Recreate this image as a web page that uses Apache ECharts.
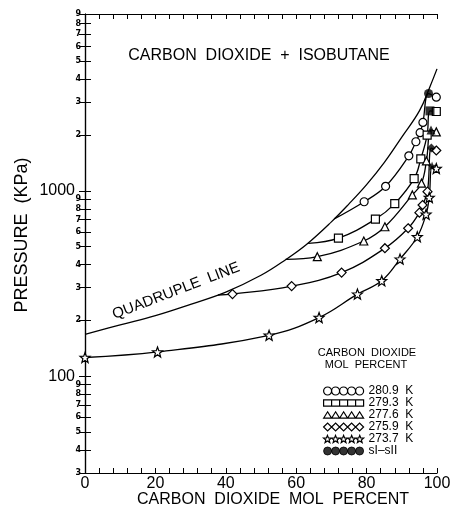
<!DOCTYPE html>
<html>
<head>
<meta charset="utf-8">
<script src="https://cdn.jsdelivr.net/npm/echarts@6/dist/echarts.min.js"></script>
<style>
html, body { margin: 0; padding: 0; background: #fff; }
#main { width: 455px; height: 511px; }
</style>
</head>
<body>
<div id="main"></div>
<script>
// quadruple line
const quadX = [0, 10, 20, 30, 40, 50, 57, 63, 70, 75, 80, 85, 90, 95, 98, 100];
const quadP = [168, 189, 212, 244, 284, 350, 425, 515, 680, 850, 1080, 1420, 1950, 2700, 3650, 4550];

// isotherms (CO2 mol %, kPa)
const t2809X = [70.8, 79.3, 85.4, 92, 94, 95.2, 96, 97.6, 99.8];
const t2809P = [705, 873, 1058, 1545, 1840, 2060, 2340, 3350, 3200];
const t2793X = [63.4, 72, 82.5, 88, 93.5, 95.4, 97.2, 98, 99.8];
const t2793P = [520, 555, 703, 853, 1163, 1487, 2000, 2700, 2680];
const t2776X = [57, 66, 79.2, 85.2, 93, 95.6, 97, 98.3, 99.8];
const t2776P = [427, 441, 536, 640, 950, 1100, 1450, 2130, 2080];
const t2759X = [37.8, 41.9, 58.7, 72.9, 85.2, 91.8, 95, 95.9, 97.3, 98.4, 99.8];
const t2759P = [274, 277, 306, 362, 490, 628, 762, 838, 990, 1700, 1650];
const t2737X = [0, 20.6, 52.3, 66.5, 77.4, 84.3, 89.5, 94.4, 96.9, 97.8, 98.6, 99.8];
const t2737P = [126, 135, 166, 207, 277, 327, 428, 565, 747, 920, 1360, 1320];

// sI-sII transition points
const s12X = [97.6, 98, 98.3, 98.4, 98.6];
const s12P = [3350, 2700, 2130, 1700, 1360];

// tick labels
const pTicks = [30, 40, 50, 60, 70, 80, 90, 100, 200, 300, 400, 500, 600, 700, 800, 900,
                1000, 2000, 3000, 4000, 5000, 6000, 7000, 8000, 9000];

const FONT = '"Liberation Sans", Arial, sans-serif';

function starPath(ox) {
  let d = '';
  for (let i = 0; i < 10; i++) {
    const a = (-90 + i * 36) * Math.PI / 180;
    const r = i % 2 ? 2.1 : 5;
    d += (i ? 'L' : 'M') + (ox + 5 + r * Math.cos(a)).toFixed(2) + ',' + (5 + r * Math.sin(a)).toFixed(2) + ' ';
  }
  return d + 'Z ';
}
const STAR = 'path://' + starPath(0);

function chain(fn) {
  let d = '';
  for (let k = 0; k < 5; k++) d += fn(k * 10);
  return 'path://' + d;
}
const icCircle = chain(o => 'M' + o + ',5 A5,5 0 1,0 ' + (o + 10) + ',5 A5,5 0 1,0 ' + o + ',5 Z ');
const icRect = chain(o => 'M' + o + ',1 L' + (o + 10) + ',1 L' + (o + 10) + ',9 L' + o + ',9 Z ');
const icTri = chain(o => 'M' + o + ',9 L' + (o + 5) + ',1 L' + (o + 10) + ',9 Z ');
const icDia = chain(o => 'M' + o + ',5 L' + (o + 5) + ',0 L' + (o + 10) + ',5 L' + (o + 5) + ',10 Z ');
const icStar = chain(o => starPath(o));

// markers are not drawn where a curve leaves the quadruple line or at the sI-sII point
function pts(xs, ps, skipFirst) {
  return xs.map((x, i) => {
    const bare = (skipFirst && i === 0) || s12X.indexOf(x) >= 0;
    return bare ? { value: [x, ps[i]], symbol: 'none' } : [x, ps[i]];
  });
}

const openStyle = { color: '#fff', borderColor: '#000', borderWidth: 1.2 };
function iso(name, xs, ps, sym, size, skipFirst) {
  return {
    name: name, type: 'line', data: pts(xs, ps, skipFirst),
    symbol: sym, symbolSize: size, showAllSymbol: true,
    smooth: 0.4,
    lineStyle: { color: '#000', width: 1.3 },
    itemStyle: openStyle, z: 3
  };
}

const chart = echarts.init(document.getElementById('main'));
chart.setOption({
  animation: false,
  backgroundColor: '#fff',
  grid: { left: 85, right: 18, top: 14, bottom: 38 },
  xAxis: [{
    type: 'value', min: 0, max: 100, interval: 4,
    axisLine: { lineStyle: { color: '#000', width: 1.2 } },
    axisTick: { inside: true, length: 5, lineStyle: { color: '#000' } },
    axisLabel: {
      margin: 3, color: '#000', fontSize: 16, fontFamily: FONT,
      formatter: v => (Math.round(v) % 20 === 0 ? String(Math.round(v)) : '')
    },
    splitLine: { show: false }
  }, {
    type: 'value', min: 0, max: 100, interval: 4, position: 'top',
    axisLine: { lineStyle: { color: '#000', width: 1.2 } },
    axisTick: { inside: true, length: 5, lineStyle: { color: '#000' } },
    axisLabel: { show: false },
    splitLine: { show: false }
  }],
  yAxis: [{
    type: 'log', min: 30, max: 9000,
    axisLine: { lineStyle: { color: '#000', width: 1.2 } },
    axisTick: { inside: true, length: 6, customValues: pTicks, lineStyle: { color: '#000' } },
    axisLabel: {
      customValues: pTicks, margin: 4, color: '#000',
      formatter: v => {
        const r = Math.round(v);
        return (r === 100 || r === 1000) ? '{big|' + r + '}' : '{sm|' + String(r).charAt(0) + '}';
      },
      rich: {
        big: { fontSize: 16, fontFamily: FONT, color: '#000', padding: [0, 6, 0, 0] },
        sm: { fontSize: 8, fontWeight: 'bold', fontFamily: '"DejaVu Sans", sans-serif', color: '#000' }
      }
    },
    splitLine: { show: false }
  }, {
    type: 'log', min: 30, max: 9000, position: 'right',
    axisLine: { lineStyle: { color: '#000', width: 1.2 } },
    axisTick: { inside: true, length: 6, customValues: pTicks, lineStyle: { color: '#000' } },
    axisLabel: { show: false },
    splitLine: { show: false }
  }],
  legend: {
    orient: 'vertical', left: 318, top: 380, itemGap: 0,
    itemWidth: 40, itemHeight: 8, selectedMode: false,
    textStyle: { fontSize: 12, lineHeight: 12, fontFamily: FONT, color: '#000' },
    data: [
      { name: '280.9  K', icon: icCircle, itemStyle: openStyle },
      { name: '279.3  K', icon: icRect, itemStyle: openStyle },
      { name: '277.6  K', icon: icTri, itemStyle: openStyle },
      { name: '275.9  K', icon: icDia, itemStyle: openStyle },
      { name: '273.7  K', icon: icStar, itemStyle: openStyle },
      { name: 'sI\u2013sII', icon: icCircle, itemStyle: { color: '#000', borderColor: '#000', borderWidth: 1 } }
    ]
  },
  series: [
    {
      name: 'quadruple', type: 'line', symbol: 'none',
      data: quadX.map((x, i) => [x, quadP[i]]),
      smooth: 0.4,
      lineStyle: { color: '#000', width: 1.3 }, z: 2
    },
    iso('280.9  K', t2809X, t2809P, 'circle', 8, true),
    iso('279.3  K', t2793X, t2793P, 'rect', 8, true),
    iso('277.6  K', t2776X, t2776P, 'triangle', 8, true),
    iso('275.9  K', t2759X, t2759P, 'diamond', 9, true),
    iso('273.7  K', t2737X, t2737P, STAR, 10, false),
    {
      name: 'sI\u2013sII', type: 'scatter',
      data: s12X.map((x, i) => [x, s12P[i]]),
      symbol: (v, p) => ['circle', 'rect', 'triangle', 'diamond', STAR][p.dataIndex],
      symbolSize: 9,
      itemStyle: { color: '#000' }, z: 5
    }
  ],
  graphic: [
    { type: 'text', style: {
        text: 'CARBON  DIOXIDE  +  ISOBUTANE', x: 259, y: 56, align: 'center', verticalAlign: 'middle',
        font: '16px ' + FONT, fill: '#000' } },
    { type: 'text', style: {
        text: 'QUADRUPLE  LINE', x: 0, y: 0, align: 'center', verticalAlign: 'middle',
        font: '15px ' + FONT, fill: '#000' }, x: 176, y: 291, rotation: 21 * Math.PI / 180 },
    { type: 'text', style: {
        text: 'CARBON  DIOXIDE', x: 367, y: 353, align: 'center', verticalAlign: 'middle',
        font: '11px ' + FONT, fill: '#000' } },
    { type: 'text', style: {
        text: 'MOL  PERCENT', x: 366, y: 365, align: 'center', verticalAlign: 'middle',
        font: '11px ' + FONT, fill: '#000' } },
    { type: 'text', style: {
        text: 'CARBON  DIOXIDE  MOL  PERCENT', x: 273, y: 500, align: 'center', verticalAlign: 'middle',
        font: '16px ' + FONT, fill: '#000' } },
    { type: 'text', style: {
        text: 'PRESSURE  (KPa)', x: 0, y: 0, align: 'center', verticalAlign: 'middle',
        font: '18px ' + FONT, fill: '#000' }, x: 22, y: 235, rotation: Math.PI / 2 }
  ]
});
</script>
</body>
</html>
